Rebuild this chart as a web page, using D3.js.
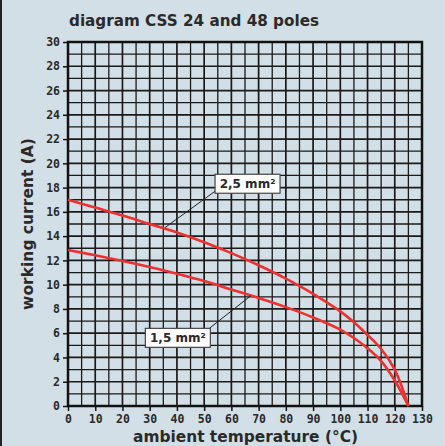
<!DOCTYPE html>
<html>
<head>
<meta charset="utf-8">
<script src="https://cdn.jsdelivr.net/npm/d3@7"></script>
<style>
  html, body { margin: 0; padding: 0; background: #d3dfe6; }
  #chart { width: 445px; height: 446px; }
</style>
</head>
<body>
<div id="chart"></div>
<script>
const width = 445, height = 446;

// data
const temps = [0, 10, 20, 30, 40, 50, 60, 70, 80, 90, 100, 105, 110, 115, 120, 125];
const current25 = [17.0, 16.35, 15.7, 15.0, 14.3, 13.5, 12.6, 11.6, 10.5, 9.25, 7.8, 6.9, 5.85, 4.7, 3.0, 0];
const current15 = [12.85, 12.42, 11.95, 11.45, 10.9, 10.3, 9.6, 8.9, 8.15, 7.3, 6.3, 5.6, 4.75, 3.7, 2.1, 0];
const xTicks = d3.range(0, 131, 10);
const yTicks = d3.range(0, 31, 2);
const labels = [
    { text: "2,5 mm²", bx: 54, by: 19.1, px: 35.6, py: 14.7 },
    { text: "1,5 mm²", bx: 28.4, by: 6.4, px: 67.2, py: 9.1 }
];

const margin = { top: 42, right: 23, bottom: 40, left: 68 };

const svg = d3.select("#chart")
    .append("svg")
    .attr("width", width)
    .attr("height", height);

svg.append("rect")
    .attr("width", width).attr("height", height)
    .attr("fill", "#d3dfe6");
svg.append("rect")
    .attr("x", 0).attr("y", 0).attr("width", 2).attr("height", height)
    .attr("fill", "#222");

const x = d3.scaleLinear().domain([0, 130]).range([margin.left, width - margin.right]);
const y = d3.scaleLinear().domain([0, 30]).range([height - margin.bottom, margin.top]);

// =========================
// GRID
// =========================
const grid = svg.append("g");
grid.selectAll("line.v")
    .data(d3.range(0, 131, 5))
    .enter().append("line")
    .attr("x1", d => x(d)).attr("x2", d => x(d))
    .attr("y1", y(0)).attr("y2", y(30))
    .attr("stroke", "#1a1a1a")
    .attr("stroke-width", (d, i) => i % 2 ? 1.3 : 1.7);

grid.selectAll("line.h")
    .data(d3.range(0, 31, 1))
    .enter().append("line")
    .attr("x1", x(0)).attr("x2", x(130))
    .attr("y1", d => y(d)).attr("y2", d => y(d))
    .attr("stroke", "#1a1a1a")
    .attr("stroke-width", (d, i) => i % 2 ? 1.3 : 1.7);

// frame
svg.append("rect")
    .attr("x", x(0)).attr("y", y(30))
    .attr("width", x(130) - x(0)).attr("height", y(0) - y(30))
    .attr("fill", "none")
    .attr("stroke", "#111")
    .attr("stroke-width", 2.5);

// =========================
// AXES
// =========================
const tickFont = "'DejaVu Sans Mono', monospace";

const xAxis = svg.append("g")
    .attr("transform", `translate(0, ${y(0)})`)
    .call(d3.axisBottom(x).tickValues(xTicks).tickSize(5).tickPadding(4).tickFormat(d3.format("d")));
xAxis.select(".domain").remove();
xAxis.selectAll("line").attr("stroke", "#111").attr("stroke-width", 1.5);
xAxis.selectAll("text")
    .attr("fill", "#2a2a2a")
    .style("font-family", tickFont)
    .style("font-weight", "bold")
    .style("font-size", "11.5px");

const yAxis = svg.append("g")
    .attr("transform", `translate(${x(0)}, 0)`)
    .call(d3.axisLeft(y).tickValues(yTicks).tickSize(5).tickPadding(3).tickFormat(d3.format("d")));
yAxis.select(".domain").remove();
yAxis.selectAll("line").attr("stroke", "#111").attr("stroke-width", 1.5);
yAxis.selectAll("text")
    .attr("fill", "#2a2a2a")
    .style("font-family", tickFont)
    .style("font-weight", "bold")
    .style("font-size", "11.5px");

// =========================
// CURVES
// =========================
const line = d3.line()
    .x(d => x(d[0]))
    .y(d => y(d[1]))
    .curve(d3.curveCatmullRom.alpha(0.5));

[current25, current15].forEach(series => {
    svg.append("path")
        .datum(temps.map((t, i) => [t, series[i]]))
        .attr("d", line)
        .attr("fill", "none")
        .attr("stroke", "#ee3030")
        .attr("stroke-width", 2.6)
        .attr("stroke-linejoin", "round");
});

// =========================
// LABELS
// =========================
labels.forEach(l => {
    svg.append("line")
        .attr("x1", x(l.bx) + (l.by > 10 ? 0 : 64)).attr("y1", y(l.by) + (l.by > 10 ? 17 : 0))
        .attr("x2", x(l.px)).attr("y2", y(l.py))
        .attr("stroke", "#222")
        .attr("stroke-width", 1);

    const g = svg.append("g")
        .attr("transform", `translate(${x(l.bx)}, ${y(l.by)})`);
    g.append("rect")
        .attr("width", 65).attr("height", 19)
        .attr("fill", "#fff")
        .attr("stroke", "#444")
        .attr("stroke-width", 1.2);
    g.append("text")
        .attr("x", 32.5).attr("y", 14)
        .attr("text-anchor", "middle")
        .attr("fill", "#2a2a2a")
        .style("font-family", "'DejaVu Sans', sans-serif")
        .style("font-weight", "bold")
        .style("font-size", "12px")
        .text(l.text);
});

// =========================
// TITLES
// =========================
svg.append("text")
    .attr("x", 69).attr("y", 26)
    .attr("textLength", 250)
    .attr("lengthAdjust", "spacingAndGlyphs")
    .attr("fill", "#2a2a2a")
    .style("font-family", "'DejaVu Sans', sans-serif")
    .style("font-weight", "bold")
    .style("font-size", "15.5px")
    .text("diagram CSS 24 and 48 poles");

svg.append("text")
    .attr("x", 133).attr("y", 442)
    .attr("textLength", 225)
    .attr("lengthAdjust", "spacingAndGlyphs")
    .attr("fill", "#2a2a2a")
    .style("font-family", "'DejaVu Sans', sans-serif")
    .style("font-weight", "bold")
    .style("font-size", "15.5px")
    .text("ambient temperature (°C)");

svg.append("text")
    .attr("transform", `translate(33, 224) rotate(-90)`)
    .attr("text-anchor", "middle")
    .attr("fill", "#2a2a2a")
    .style("font-family", "'DejaVu Sans', sans-serif")
    .style("font-weight", "bold")
    .style("font-size", "15.5px")
    .text("working current (A)");
</script>
</body>
</html>
